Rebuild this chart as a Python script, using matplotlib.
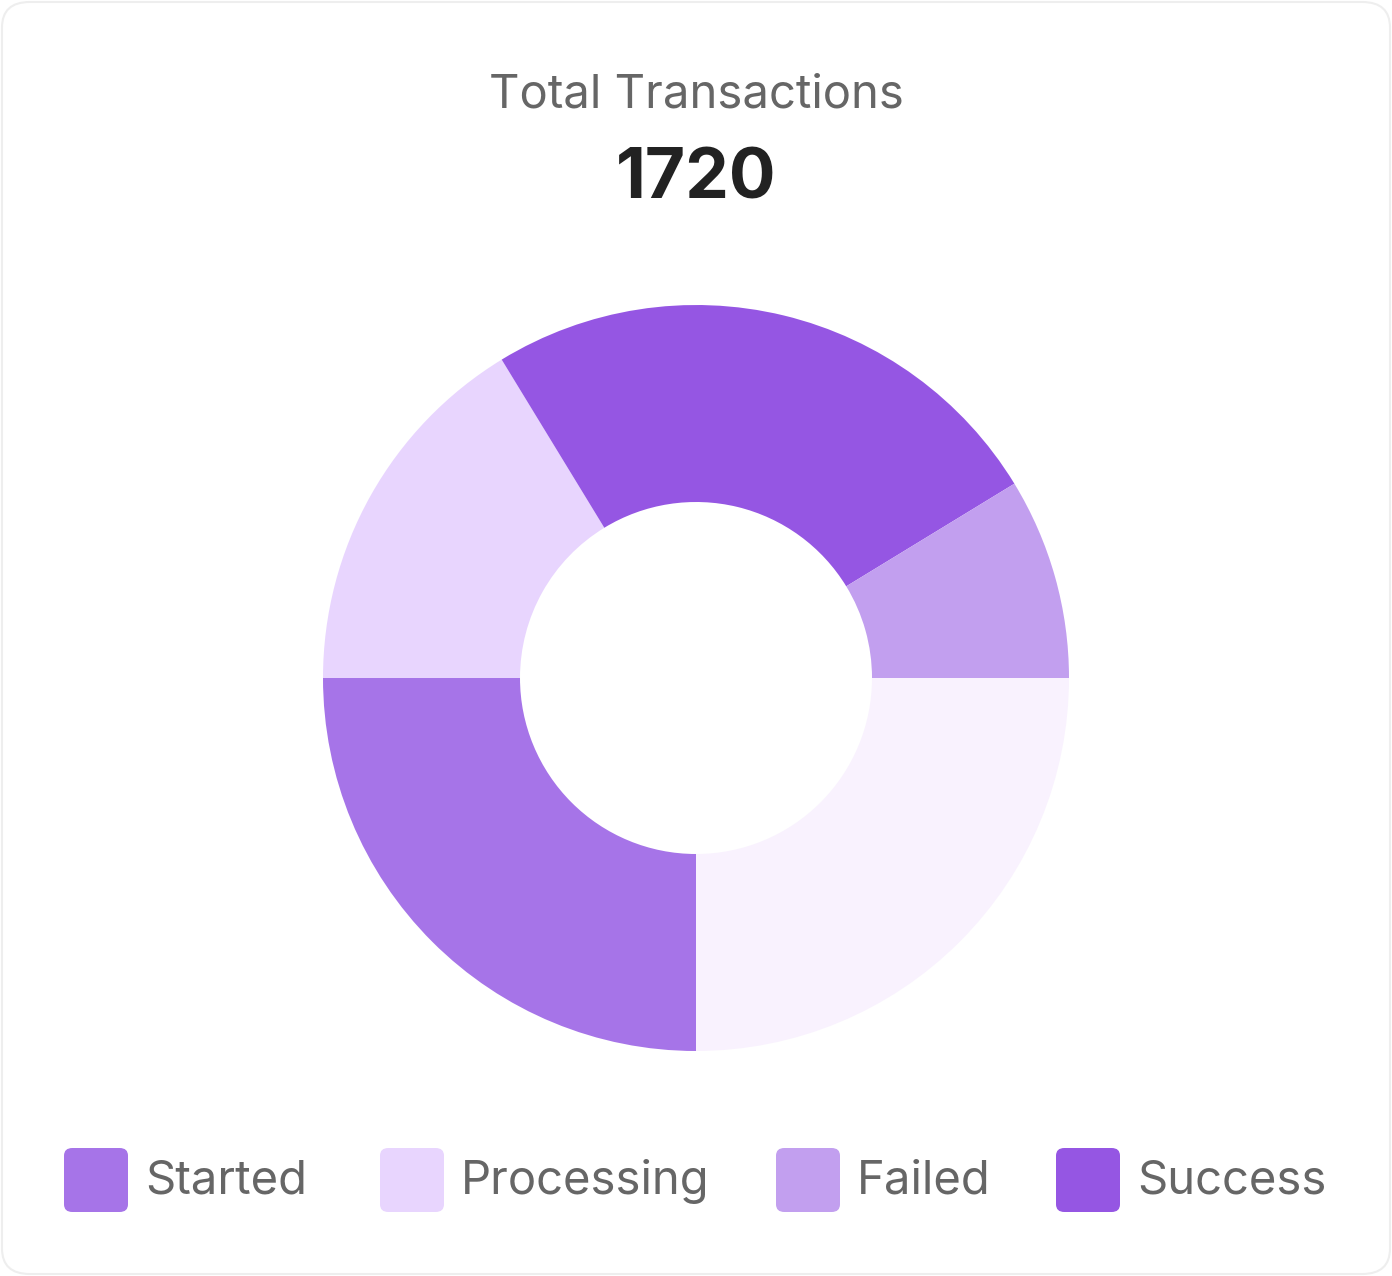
import matplotlib
matplotlib.use("Agg")
import matplotlib.pyplot as plt
from matplotlib.patches import FancyBboxPatch

plt.rcParams['font.family'] = ['Inter', 'DejaVu Sans']

# draw order (clockwise from bottom)
segments = ["Started", "Processing", "Success", "Failed", "Other"]
values = [430, 280, 430, 150, 430]
colors = ["#A674E8", "#E8D5FE", "#9556E3", "#C29FEF", "#F9F2FE"]
legend_labels = ["Started", "Processing", "Failed", "Success"]
legend_colors = ["#A674E8", "#E8D5FE", "#C29FEF", "#9556E3"]
total = 1720

W, H = 1392, 1276
fig = plt.figure(figsize=(W/100, H/100), dpi=100)
fig.patch.set_facecolor("white")
bg = FancyBboxPatch((2/W, 2/H), 1-4/W, 1-4/H, boxstyle="round,pad=0,rounding_size=0.02",
                    transform=fig.transFigure, facecolor="white", edgecolor="#EEEEEE", lw=1.5,
                    zorder=-10)
fig.patches.append(bg)

cx, cy, r = 696, 678, 373
ax = fig.add_axes([(cx-r)/W, (H-cy-r)/H, 2*r/W, 2*r/H], zorder=5)
ax.patch.set_visible(False)
ax.pie(values, colors=colors, startangle=-90, counterclock=False, radius=1,
       wedgeprops=dict(width=1-176/373, edgecolor="none"))
ax.set_xlim(-1, 1); ax.set_ylim(-1, 1); ax.set_aspect('equal'); ax.axis('off')

fig.text(0.5, 1-96/H, "Total Transactions", ha="center", va="center", fontsize=34, color="#666666")
fig.text(0.5, 1-180/H, str(total), ha="center", va="center", fontsize=50, fontweight="bold", color="#222222")

box_x = [64, 380, 776, 1056]
for x, lab, c in zip(box_x, legend_labels, legend_colors):
    p = FancyBboxPatch((x/W, (H-1212)/H), 64/W, 64/H, boxstyle="round,pad=0,rounding_size=0.006",
                       transform=fig.transFigure, facecolor=c, edgecolor="none")
    fig.patches.append(p)
    fig.text((x+81)/W, 1-1182/H, lab, ha="left", va="center", fontsize=34, color="#666666")

fig.savefig("out.png", dpi=100)
